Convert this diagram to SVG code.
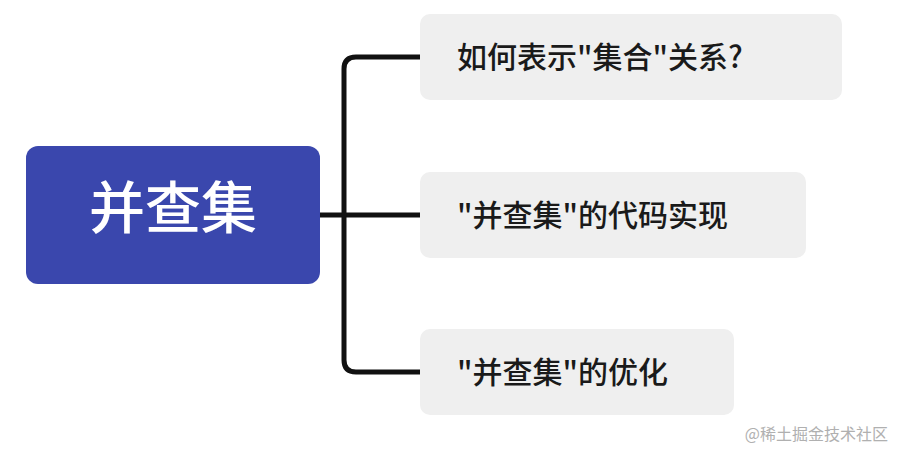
<svg xmlns="http://www.w3.org/2000/svg" width="903" height="458" viewBox="0 0 903 458">
<style>
.t{font-family:"Noto Sans CJK SC","Noto Sans",sans-serif;font-size:30px;fill:#1a1a1a;font-weight:500}
.b{fill:#efefef}
.c{fill:none;stroke:#111;stroke-width:5}
</style>
<rect width="903" height="458" fill="#fff"/>
<g id="root"><rect x="26" y="146" width="294" height="138" rx="12" fill="#3a47ad"/>
<text x="173" y="228" text-anchor="middle" font-family="Noto Sans CJK SC,sans-serif" font-size="56" font-weight="500" fill="#fff">并查集</text></g>
<g id="n1"><rect class="b" x="420" y="14" width="422" height="86" rx="10"/><text class="t" x="457" y="68">如何表示"集合"关系?</text></g>
<g id="n2"><rect class="b" x="420" y="172" width="386" height="86" rx="10"/><text class="t" x="457" y="226">"并查集"的代码实现</text></g>
<g id="n3"><rect class="b" x="420" y="329" width="314" height="86" rx="10"/><text class="t" x="457" y="383">"并查集"的优化</text></g>
<g id="connectors">
<path class="c" d="M320 215H420"/>
<path class="c" d="M420 57H356Q344 57 344 69V360Q344 372 356 372H420"/>
</g>
<text x="888" y="440" text-anchor="end" font-family="Noto Sans CJK SC,sans-serif" font-size="16" fill="#b0b0b0">@稀土掘金技术社区</text>
</svg>
